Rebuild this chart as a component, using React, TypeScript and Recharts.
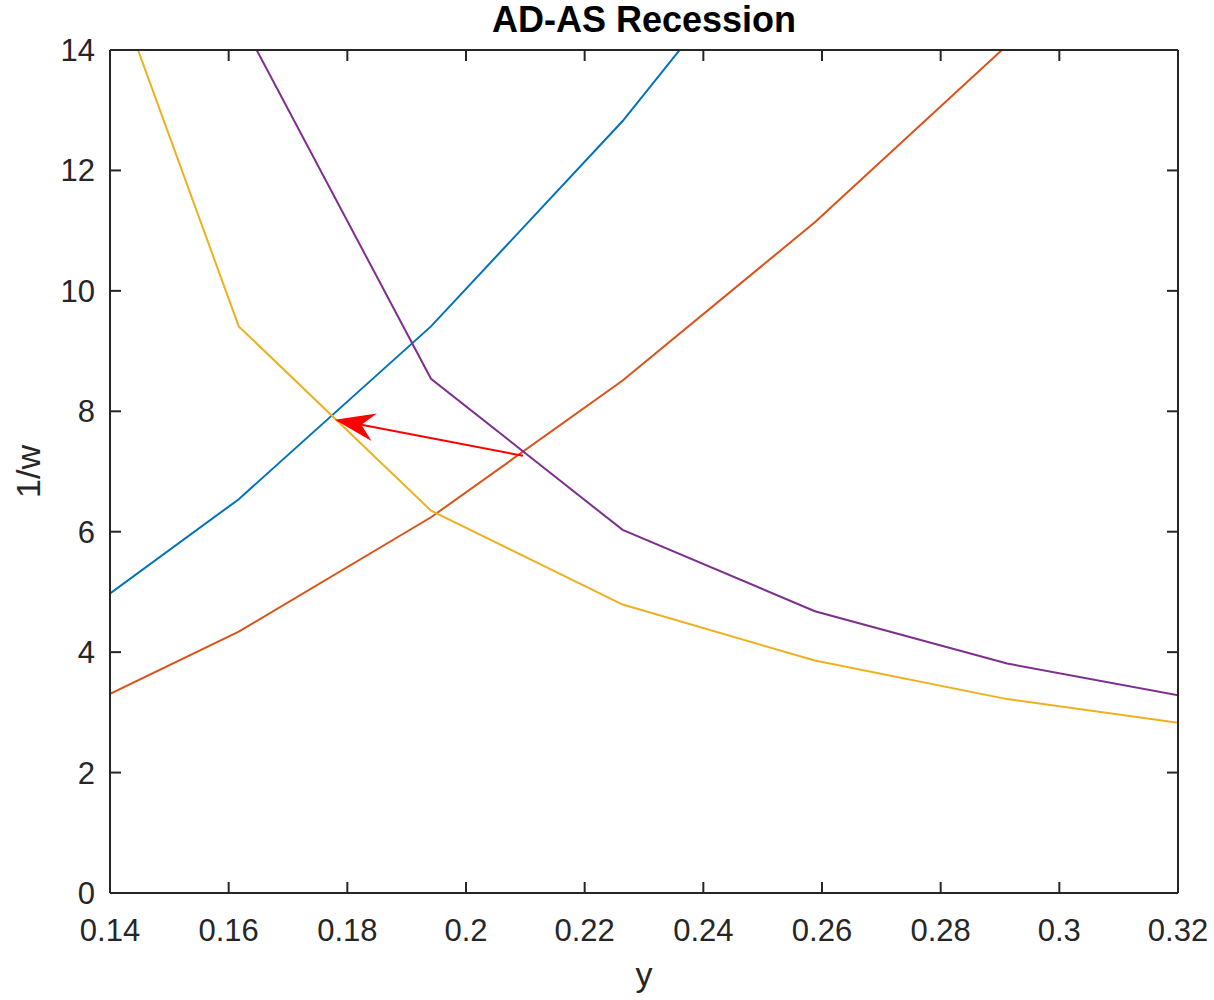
import { Label, Line, LineChart, ReferenceLine, XAxis, YAxis } from "recharts";

// y values where the curves are sampled
const yGrid = [0.1293, 0.1617, 0.1941, 0.2264, 0.2588, 0.2912, 0.3235];

// two AS curves (blue, orange) and two AD curves (purple, yellow)
const asBefore = [4.2, 6.54, 9.41, 12.82, 16.8, null, null];
const asAfter = [2.8, 4.34, 6.24, 8.51, 11.14, 14.08, 17.6];
const adBefore = [null, 14.56, 8.54, 6.03, 4.68, 3.81, 3.22];
const adAfter = [18.17, 9.41, 6.35, 4.79, 3.86, 3.22, 2.78];

const xTicks = [0.14, 0.16, 0.18, 0.2, 0.22, 0.24, 0.26, 0.28, 0.3, 0.32];
const yTicks = [0, 2, 4, 6, 8, 10, 12, 14];

const arrowFrom = { x: 0.2096, y: 7.26 };
const arrowTo = { x: 0.1779, y: 7.86 };

const data = yGrid.map((x, i) => ({
  x,
  asBefore: asBefore[i],
  asAfter: asAfter[i],
  adBefore: adBefore[i],
  adAfter: adAfter[i],
}));

const FONT = "'Liberation Sans', Arial, Helvetica, sans-serif";
const INK = "#262626";
const TICK_LEN = 11;
const TICK_FONT = 31;
const LABEL_FONT = 34;

// MATLAB-like ticks: mark points into the plot, label sits outside
const BottomTick = (props: any) => {
  const { x, y, payload } = props;
  return (
    <g>
      <line x1={x} y1={y} x2={x} y2={y - TICK_LEN} stroke={INK} strokeWidth={2} />
      <text x={x} y={y + 48} textAnchor="middle" fill={INK} fontSize={TICK_FONT} fontFamily={FONT}>
        {String(payload.value)}
      </text>
    </g>
  );
};

const LeftTick = (props: any) => {
  const { x, y, payload } = props;
  return (
    <g>
      <line x1={x} y1={y} x2={x + TICK_LEN} y2={y} stroke={INK} strokeWidth={2} />
      <text x={x - 15} y={y + 11} textAnchor="end" fill={INK} fontSize={TICK_FONT} fontFamily={FONT}>
        {String(payload.value)}
      </text>
    </g>
  );
};

const TopTick = (props: any) => {
  const { x, y } = props;
  return <line x1={x} y1={y} x2={x} y2={y + TICK_LEN} stroke={INK} strokeWidth={2} />;
};

const RightTick = (props: any) => {
  const { x, y } = props;
  return <line x1={x} y1={y} x2={x - TICK_LEN} y2={y} stroke={INK} strokeWidth={2} />;
};

const Arrow = (props: any) => {
  const { x1, y1, x2, y2 } = props;
  const dx = x1 - x2;
  const dy = y1 - y2;
  const len = Math.sqrt(dx * dx + dy * dy) || 1;
  const ux = dx / len;
  const uy = dy / len;
  const px = -uy;
  const py = ux;
  const L = 40;
  const W = 14;
  const N = 27;
  const pts = [
    [x2, y2],
    [x2 + ux * L + px * W, y2 + uy * L + py * W],
    [x2 + ux * N, y2 + uy * N],
    [x2 + ux * L - px * W, y2 + uy * L - py * W],
  ]
    .map((p) => p.join(","))
    .join(" ");
  return (
    <g>
      <line x1={x1} y1={y1} x2={x2 + ux * N} y2={y2 + uy * N} stroke="#FF0000" strokeWidth={2} />
      <polygon points={pts} fill="#FF0000" />
    </g>
  );
};

export default function App() {
  return (
    <div style={{ position: "absolute", left: 0, top: 0, background: "#fff" }}>
      <LineChart width={1214} height={1000} data={data} margin={{ top: 49, right: 35, bottom: 0, left: 0 }}>
        <XAxis
          xAxisId="bottom"
          dataKey="x"
          type="number"
          domain={[0.14, 0.32]}
          ticks={xTicks}
          allowDataOverflow
          interval={0}
          height={107}
          tickSize={0}
          tickMargin={0}
          tick={<BottomTick />}
          tickLine={false}
          axisLine={{ stroke: INK, strokeWidth: 2 }}
        >
          <Label value="y" position="insideBottom" offset={14} style={{ fontSize: LABEL_FONT, fill: INK, fontFamily: FONT }} />
        </XAxis>
        <XAxis
          xAxisId="top"
          dataKey="x"
          type="number"
          orientation="top"
          domain={[0.14, 0.32]}
          ticks={xTicks}
          allowDataOverflow
          interval={0}
          height={1}
          tickSize={0}
          tickMargin={0}
          tick={<TopTick />}
          tickLine={false}
          axisLine={{ stroke: INK, strokeWidth: 2 }}
        >
          <Label
            value="AD-AS Recession"
            position="top"
            offset={17}
            style={{ fontSize: 36, fontWeight: "bold", fill: "#000", fontFamily: FONT }}
          />
        </XAxis>
        <YAxis
          yAxisId="left"
          type="number"
          domain={[0, 14]}
          ticks={yTicks}
          allowDataOverflow
          interval={0}
          width={110}
          tickSize={0}
          tickMargin={0}
          tick={<LeftTick />}
          tickLine={false}
          axisLine={{ stroke: INK, strokeWidth: 2 }}
        >
          <Label
            content={({ viewBox }: any) => {
              const cx = viewBox.x + 40;
              const cy = viewBox.y + viewBox.height / 2;
              return (
                <text
                  x={cx}
                  y={cy}
                  transform={`rotate(-90 ${cx} ${cy})`}
                  textAnchor="middle"
                  fill={INK}
                  fontSize={LABEL_FONT}
                  fontFamily={FONT}
                >
                  1/w
                </text>
              );
            }}
          />
        </YAxis>
        <YAxis
          yAxisId="right"
          orientation="right"
          type="number"
          domain={[0, 14]}
          ticks={yTicks}
          allowDataOverflow
          interval={0}
          width={1}
          tickSize={0}
          tickMargin={0}
          tick={<RightTick />}
          tickLine={false}
          axisLine={{ stroke: INK, strokeWidth: 2 }}
        />
        <Line xAxisId="bottom" yAxisId="left" dataKey="asBefore" stroke="#0072BD" strokeWidth={2} dot={false} isAnimationActive={false} />
        <Line xAxisId="bottom" yAxisId="left" dataKey="asAfter" stroke="#D95319" strokeWidth={2} dot={false} isAnimationActive={false} />
        <Line xAxisId="bottom" yAxisId="left" dataKey="adAfter" stroke="#EDB120" strokeWidth={2} dot={false} isAnimationActive={false} />
        <Line xAxisId="bottom" yAxisId="left" dataKey="adBefore" stroke="#7E2F8E" strokeWidth={2} dot={false} isAnimationActive={false} />
        <ReferenceLine xAxisId="bottom" yAxisId="left" segment={[arrowFrom, arrowTo]} shape={Arrow} />
      </LineChart>
    </div>
  );
}
